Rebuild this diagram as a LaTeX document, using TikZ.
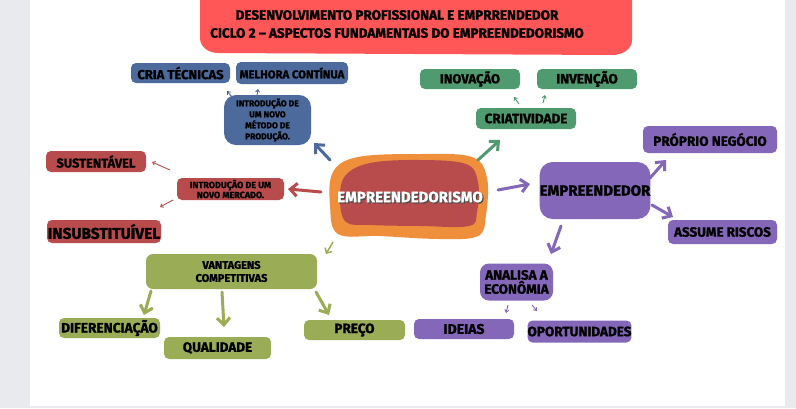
\documentclass[tikz,border=0pt]{standalone}
\usepackage{fontspec}
\setmainfont{Fira Sans}[BoldFeatures={FakeBold=1.3}]
\usetikzlibrary{arrows.meta}
\definecolor{bggray}{HTML}{E9EAEE}
\definecolor{titlered}{HTML}{FF5757}
\definecolor{cblue}{HTML}{4C6A9B}
\definecolor{cgreen}{HTML}{4F9A6E}
\definecolor{cred}{HTML}{B84C4C}
\definecolor{corange}{HTML}{EF8F3C}
\definecolor{cpurple}{HTML}{8467B9}
\definecolor{colive}{HTML}{9BAC57}
\tikzset{
  box/.style={fill=#1, rounded corners=5pt, inner sep=0pt, align=center, font=\bfseries, text=black},
  bigarrow/.style={draw=#1, line width=3pt, line cap=round, -{Straight Barb[length=7pt,width=13pt,line width=3pt]}},
  smallarrow/.style={draw=#1, line width=0.9pt, -{Straight Barb[length=2.5pt,width=4pt,line width=0.9pt]}},
  fs/.style={font=\fontsize{#1}{#1}\selectfont\bfseries}
}
\begin{document}
\begin{tikzpicture}[x=1pt,y=-1pt]
\useasboundingbox (0,0) rectangle (796,408);
\fill[bggray] (0,0) rectangle (796,408);
\fill[white] (30,0) rectangle (785,406);
% title
\fill[titlered] (200,-10) -- (632,-10) -- (632,40) to[out=-90,in=0] (612,55) -- (218,53) to[out=180,in=-90] (200,38) -- cycle;
\node[font=\fontsize{13.5}{18}\selectfont\bfseries, text=black, align=center] (title) at (397,24) {DESENVOLVIMENTO PROFISSIONAL E EMPRRENDEDOR\\CICLO 2 -- ASPECTOS FUNDAMENTAIS DO EMPREENDEDORISMO};
% blue
\node[box=cblue, minimum width=99pt, minimum height=20pt, fs=13] (cria) at (180.5,73) {CRIA TÉCNICAS};
\node[box=cblue, minimum width=112pt, minimum height=22pt, fs=11.3] (melhora) at (292,73) {MELHORA CONTÍNUA};
\node[box=cblue, rounded corners=12pt, minimum width=87pt, minimum height=50pt, font=\fontsize{8.5}{11}\selectfont\bfseries, align=center] (metodo) at (267.5,120) {INTRODUÇÃO DE\\UM NOVO\\MÉTODO DE\\PRODUÇÃO.};
% green
\node[box=cgreen, minimum width=100pt, minimum height=20pt, fs=13] (inovacao) at (470,79) {INOVAÇÃO};
\node[box=cgreen, minimum width=100pt, minimum height=20pt, fs=13.5] (invencao) at (587,79) {INVENÇÃO};
\node[box=cgreen, minimum width=100pt, minimum height=21pt, fs=13.5] (criat) at (526,118.5) {CRIATIVIDADE};
% red
\node[box=cred, minimum width=100pt, minimum height=21pt, fs=12.8] (sust) at (96,161.5) {SUSTENTÁVEL};
\node[box=cred, minimum width=107pt, minimum height=22pt, font=\fontsize{9}{10}\selectfont\bfseries, align=center] (mercado) at (230.5,189) {INTRODUÇÃO DE UM\\NOVO MERCADO.};
\node[box=cred, minimum width=114pt, minimum height=23pt, fs=15.5] (insub) at (104,231.5) {INSUBSTITUÍVEL};
% center
\fill[corange] plot[smooth cycle, tension=0.6] coordinates {(333,172) (358,157) (420,154) (472,157) (487,178) (486,215) (478,236) (440,239) (380,236) (338,234) (330,205)};
\fill[cred] plot[smooth cycle, tension=0.6] coordinates {(345,176) (370,163) (420,160) (466,164) (478,182) (477,212) (469,226) (420,226) (370,225) (346,222) (340,200)};
\node[fs=15, text=gray!60!black] at (411.2,198.2) {EMPREENDEDORISMO};
\node[fs=15, text=white] (centro) at (410,197) {EMPREENDEDORISMO};
% purple
\node[box=cpurple, rounded corners=13pt, minimum width=110pt, minimum height=57pt, fs=15] (empr) at (595,190.5) {EMPREENDEDOR};
\node[box=cpurple, minimum width=134pt, minimum height=27pt, fs=13.5] (proprio) at (710,139.5) {PRÓPRIO NEGÓCIO};
\node[box=cpurple, minimum width=109pt, minimum height=24pt, fs=13.4] (assume) at (722.5,232) {ASSUME RISCOS};
\node[box=cpurple, rounded corners=9pt, minimum width=73pt, minimum height=37pt, font=\fontsize{13.5}{13}\selectfont\bfseries, align=center] (analisa) at (516.5,282) {ANALISA A\\ECONÔMIA};
\node[box=cpurple, minimum width=100pt, minimum height=20pt, fs=14] (ideias) at (464,329) {IDEIAS};
\node[box=cpurple, minimum width=103pt, minimum height=22pt, fs=13.5] (oport) at (579.5,331.5) {OPORTUNIDADES};
% olive
\node[box=colive, rounded corners=7pt, minimum width=171pt, minimum height=35pt, font=\fontsize{11}{13}\selectfont\bfseries, align=center] (vant) at (231.5,271.5) {VANTAGENS\\COMPETITIVAS};
\node[box=colive, minimum width=101pt, minimum height=20pt, fs=13.7] (dif) at (109.5,328) {DIFERENCIAÇÃO};
\node[box=colive, minimum width=107pt, minimum height=22pt, fs=13.5] (qual) at (217.5,348) {QUALIDADE};
\node[box=colive, minimum width=101pt, minimum height=20pt, fs=13.5] (preco) at (354.5,330) {PREÇO};
% arrow end points
\coordinate (a1s) at (330,160); \coordinate (a1e) at (314,143);
\coordinate (a2s) at (478,160); \coordinate (a2e) at (500,140);
\coordinate (a3s) at (321,192); \coordinate (a3e) at (288,189);
\coordinate (a4s) at (498,190); \coordinate (a4e) at (530,184);
\coordinate (a5s) at (333,242); \coordinate (a5e) at (326,254);
\coordinate (a6s) at (650,178); \coordinate (a6e) at (666,160);
\coordinate (a7s) at (652,205); \coordinate (a7e) at (673,217);
\coordinate (a8s) at (561,226); \coordinate (a8e) at (551,254);
\coordinate (a9s) at (151,291); \coordinate (a9e) at (144,315);
\coordinate (a10s) at (222,292); \coordinate (a10e) at (224,327);
\coordinate (a11s) at (316,292); \coordinate (a11e) at (329,315);
\draw[bigarrow=cblue] (a1s) -- (a1e);
\draw[bigarrow=cgreen] (a2s) -- (a2e);
\draw[bigarrow=cred] (a3s) -- (a3e);
\draw[bigarrow=cpurple] (a4s) -- (a4e);
\draw[colive, line width=1.5pt, -{Straight Barb[length=4pt,width=8pt,line width=1.5pt]}] (a5s) -- (a5e);
\draw[bigarrow=cpurple] (a6s) -- (a6e);
\draw[bigarrow=cpurple] (a7s) -- (a7e);
\draw[bigarrow=cpurple] (a8s) -- (a8e);
\draw[bigarrow=colive] (a9s) -- (a9e);
\draw[bigarrow=colive] (a10s) -- (a10e);
\draw[bigarrow=colive] (a11s) -- (a11e);
% small arrows
\coordinate (s1s) at (232,97); \coordinate (s1e) at (227,91);
\coordinate (s2s) at (257,96); \coordinate (s2e) at (258,89);
\coordinate (s3s) at (519,104); \coordinate (s3e) at (514,97);
\coordinate (s4s) at (543,103); \coordinate (s4e) at (545,95);
\coordinate (s5s) at (170,170); \coordinate (s5e) at (152,162);
\coordinate (s6s) at (173,200); \coordinate (s6e) at (160,207);
\coordinate (s7s) at (508,305); \coordinate (s7e) at (506,313);
\coordinate (s8s) at (532,305); \coordinate (s8e) at (537,311);
\draw[smallarrow=cblue] (s1s) -- (s1e);
\draw[smallarrow=cblue] (s2s) -- (s2e);
\draw[smallarrow=cgreen] (s3s) -- (s3e);
\draw[smallarrow=cgreen] (s4s) -- (s4e);
\draw[smallarrow=cred] (s5s) -- (s5e);
\draw[smallarrow=cred] (s6s) -- (s6e);
\draw[smallarrow=cpurple] (s7s) -- (s7e);
\draw[smallarrow=cpurple] (s8s) -- (s8e);
\end{tikzpicture}
\end{document}
